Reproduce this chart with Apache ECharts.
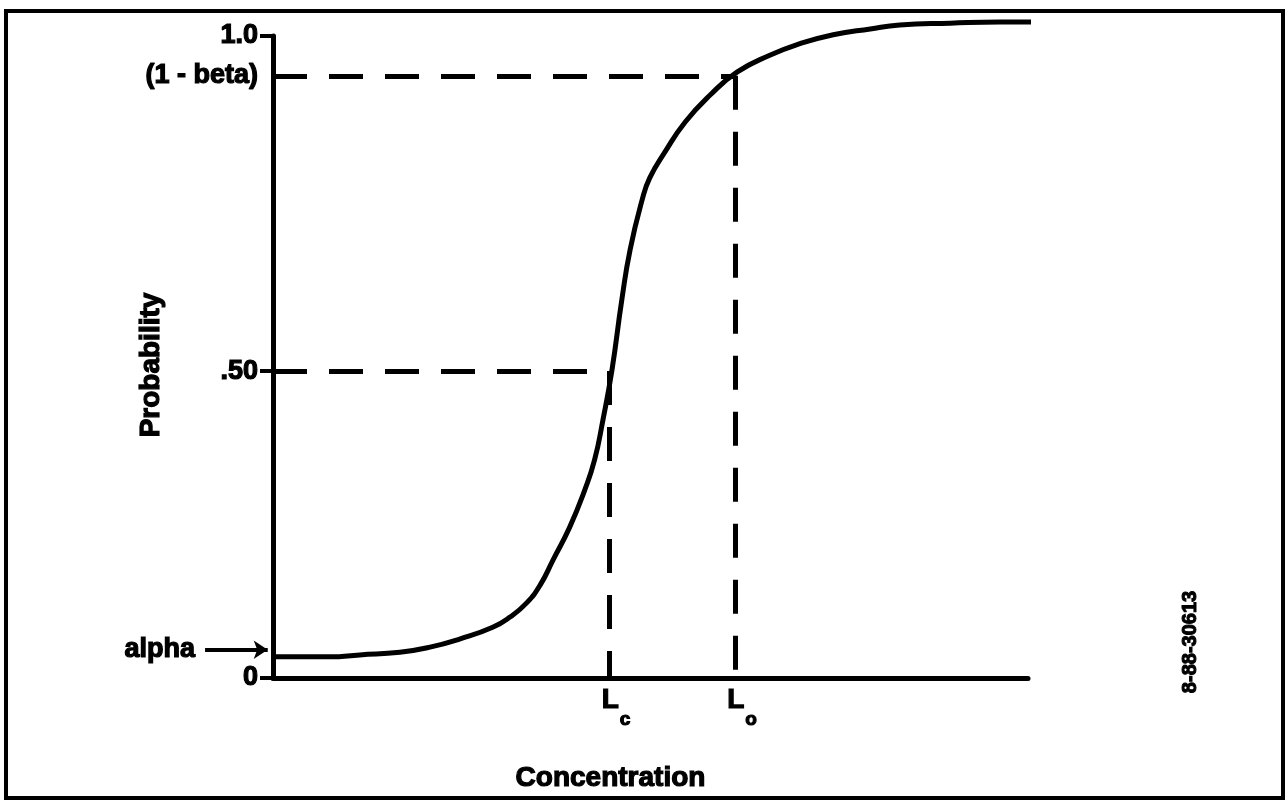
<!DOCTYPE html>
<html>
<head>
<meta charset="utf-8">
<script src="https://cdn.jsdelivr.net/npm/echarts@6/dist/echarts.min.js"></script>
<style>
html,body{margin:0;padding:0;background:#fff;}
#chart{width:1288px;height:806px;}
</style>
</head>
<body>
<div id="chart"></div>
<script>
// Curve (concentration in arbitrary units 0..100, probability 0..1)
const concentration = [0.3, 3.6, 7.5, 11.5, 16.8, 20.8, 24.8, 29.1, 31.4, 33.6, 35.4, 37.1, 39.3, 41.3, 42.6, 43.7, 44.9, 46.2, 47.3, 48.9, 49.9, 51.9, 54.6, 57.9, 61.5, 65.8, 69.8, 74.2, 79.1, 83.0, 89.7, 96.3, 101.2];
const probability = [0.033, 0.033, 0.033, 0.036, 0.040, 0.048, 0.061, 0.079, 0.095, 0.117, 0.145, 0.184, 0.235, 0.293, 0.340, 0.402, 0.480, 0.589, 0.667, 0.745, 0.779, 0.819, 0.866, 0.908, 0.944, 0.970, 0.988, 1.002, 1.011, 1.017, 1.020, 1.022, 1.022];

// Reference levels
const alphaLevel = 0.044;
const halfLevel = 0.478;
const oneMinusBeta = 0.938;
const Lc = 44.5;
const Lo = 61.2;
const arrowFrom = -9.0;
const arrowTo = -0.7;

// Tick labels
const yTickValues = [0, halfLevel, oneMinusBeta, 1];
const yTickLabels = ['0', '.50', '(1 - beta)', '1.0'];
const yTickMarks = [0, halfLevel, 1];
const xTickValues = [Lc, Lo];
const xTickSubs = ['c', 'o'];

const FONT = '"Liberation Sans", Arial, Helvetica, sans-serif';
const HEAVY = { textBorderColor: '#000', textBorderWidth: 1.2 };
const chart = echarts.init(document.getElementById('chart'));

const curve = concentration.map((c, i) => [c, probability[i]]);
const dashStyle = { color: '#000', width: 5, type: [34, 22], cap: 'butt' };

chart.setOption({
  backgroundColor: '#fff',
  animation: false,
  grid: { left: 273, right: 260, top: 36, bottom: 128, containLabel: false },
  xAxis: {
    type: 'value', min: 0, max: 100,
    name: 'Concentration', nameLocation: 'middle', nameGap: 86,
    nameTextStyle: Object.assign({ fontFamily: FONT, fontWeight: 'bold', fontSize: 28, color: '#000', padding: [0, 80, 0, 0] }, HEAVY),
    axisLine: { show: true, lineStyle: { color: '#000', width: 5 } },
    axisTick: { show: false },
    splitLine: { show: false },
    axisLabel: {
      customValues: xTickValues,
      margin: 8,
      formatter: function (v) {
        const i = xTickValues.indexOf(v);
        return '{l|L}{s|' + (i >= 0 ? xTickSubs[i] : '') + '}';
      },
      rich: {
        l: Object.assign({ fontFamily: FONT, fontWeight: 'bold', fontSize: 28, lineHeight: 28, color: '#000', verticalAlign: 'top', padding: [0, 0, 0, 14] }, HEAVY),
        s: Object.assign({ fontFamily: FONT, fontWeight: 'bold', fontSize: 19, lineHeight: 68, color: '#000', padding: [0, 0, 0, 1] }, HEAVY)
      }
    }
  },
  yAxis: {
    type: 'value', min: 0, max: 1,
    name: 'Probability', nameLocation: 'middle', nameGap: 108, nameRotate: 90,
    nameMoveOverlap: false,
    nameTextStyle: Object.assign({ fontFamily: FONT, fontWeight: 'bold', fontSize: 28, color: '#000', padding: [0, 16, 0, 0] }, HEAVY),
    axisLine: { show: true, onZero: false, lineStyle: { color: '#000', width: 5 } },
    axisTick: { show: true, customValues: yTickMarks, length: 13, lineStyle: { color: '#000', width: 4 } },
    splitLine: { show: false },
    axisLabel: Object.assign({
      customValues: yTickValues,
      margin: 15,
      fontFamily: FONT, fontWeight: 'bold', fontSize: 27, color: '#000',
      formatter: function (v) {
        const i = yTickValues.indexOf(v);
        return i >= 0 ? yTickLabels[i] : '';
      }
    }, HEAVY)
  },
  series: [
    {
      type: 'line',
      data: curve,
      smooth: 0.5,
      symbol: 'none',
      clip: false,
      lineStyle: { color: '#000', width: 5 },
      markLine: {
        silent: true,
        symbol: ['none', 'none'],
        label: { show: false },
        lineStyle: dashStyle,
        data: [
          [{ coord: [0, oneMinusBeta] }, { coord: [Lo, oneMinusBeta] }],
          [{ coord: [0, halfLevel] }, { coord: [Lc, halfLevel] }],
          [{ coord: [Lc, halfLevel] }, { coord: [Lc, 0] }],
          [{ coord: [Lo, oneMinusBeta] }, { coord: [Lo, 0] }]
        ]
      }
    },
    {
      type: 'lines',
      coordinateSystem: 'cartesian2d',
      clip: false,
      silent: true,
      symbol: ['none', 'arrow'],
      symbolSize: 14,
      lineStyle: { color: '#000', width: 4, opacity: 1 },
      label: Object.assign({
        show: true, position: 'start', distance: 10,
        formatter: 'alpha',
        fontFamily: FONT, fontWeight: 'bold', fontSize: 27, color: '#000'
      }, HEAVY),
      data: [{ coords: [[arrowFrom, alphaLevel], [arrowTo, alphaLevel]] }]
    }
  ],
  graphic: [
    {
      type: 'rect', silent: true,
      shape: { x: 6, y: 11, width: 1277, height: 787 },
      style: { fill: 'none', stroke: '#000', lineWidth: 4 }
    },
    {
      type: 'text', silent: true,
      x: 1190, y: 642, rotation: Math.PI / 2,
      style: {
        text: '8-88-30613', fontFamily: FONT, fontWeight: 'bold', fontSize: 20,
        fill: '#000', stroke: '#000', lineWidth: 1, align: 'center', verticalAlign: 'middle'
      }
    }
  ]
});
</script>
</body>
</html>
